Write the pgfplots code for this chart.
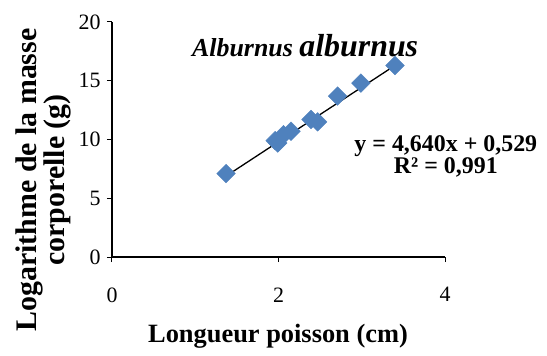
\documentclass[border=0pt]{standalone}
\usepackage{fontspec}
\setmainfont{Liberation Serif}
\usepackage{pgfplots}
\pgfplotsset{compat=1.18}
\definecolor{markblue}{HTML}{4F81BD}
\begin{document}
\begin{tikzpicture}
% fixed page size around the plot area
\path[use as bounding box] (-112bp,-99bp) rectangle (435bp,257bp);
\begin{axis}[
  scale only axis,
  width=333bp, height=235bp,
  xmin=0, xmax=4, ymin=0, ymax=20,
  xtick={0,2,4}, ytick={0,5,10,15,20},
  axis x line*=bottom, axis y line*=left,
  axis line style={line width=1.5bp, -},
  tick style={line width=1bp, black},
  tick align=outside, major tick length=5bp,
  ticklabel style={font=\fontsize{22}{24}\selectfont},
  /pgf/number format/assume math mode=true,
  xticklabel style={yshift=-22bp},
  yticklabel style={xshift=-3bp},
  clip=false,
]
\addplot[only marks, mark=square*, mark size=6.6bp, color=markblue,
  mark options={rotate=45}]
  coordinates {
    (1.37,7.1) (1.96,9.9) (1.99,9.7) (2.06,10.4) (2.15,10.7)
    (2.39,11.7) (2.47,11.5) (2.71,13.7) (2.99,14.8) (3.40,16.3)
  };
\addplot[black, line width=1.3bp] coordinates {(1.37,6.886) (3.40,16.305)};
\node[font=\bfseries\itshape] at (axis cs:2.32,18.0)
  {\fontsize{26}{28}\selectfont Alburnus \fontsize{32}{34}\selectfont alburnus};
\node[font=\bfseries, align=center] at (axis cs:4.01,8.6)
  {\fontsize{24}{25}\selectfont y = 4,640x + 0,529\\ \fontsize{24}{25}\selectfont R² = 0,991};
\end{axis}
\node[font=\bfseries, anchor=center] at (166bp,-79bp)
  {\fontsize{26.5}{30}\selectfont Longueur poisson (cm)};
\node[font=\bfseries, align=center, rotate=90] at (-68.5bp,77bp)
  {\fontsize{30}{33}\selectfont Logarithme de la masse\\ \fontsize{30}{33}\selectfont corporelle (g)};
\end{tikzpicture}
\end{document}
